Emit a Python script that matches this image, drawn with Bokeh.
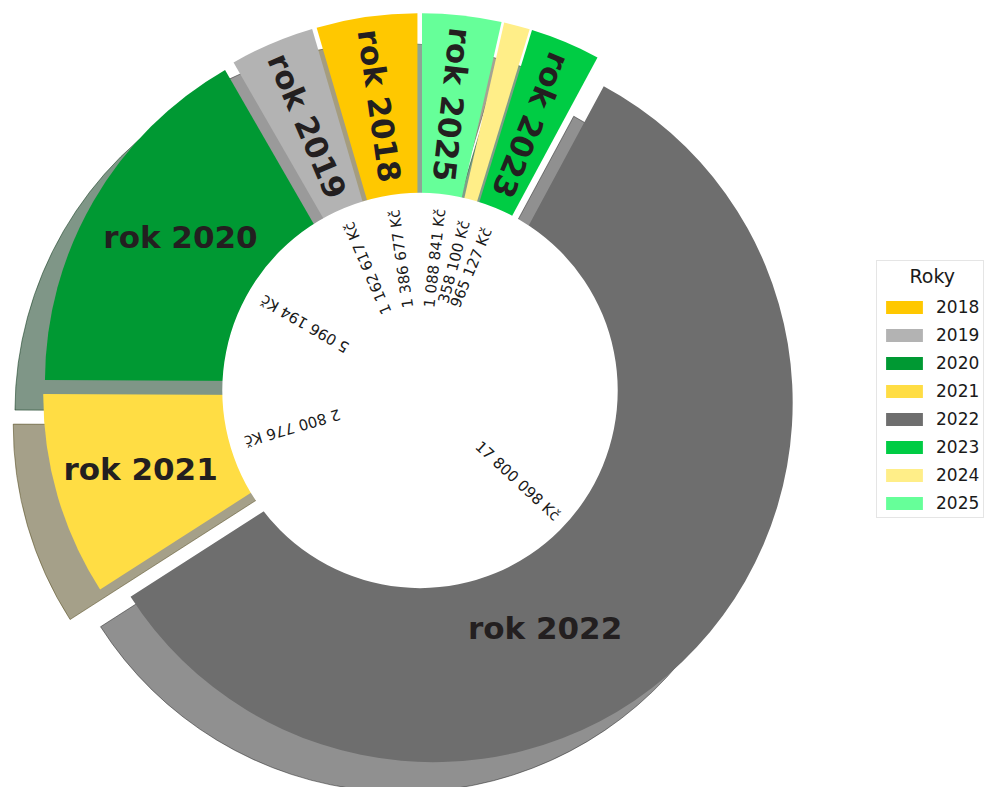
import numpy as np
from bokeh.plotting import figure
from bokeh.models import Range1d, Legend, LegendItem, ColumnDataSource
from bokeh.core.properties import value
from bokeh.embed import file_html
from bokeh.resources import INLINE

# ---- data ----
years = ["2018", "2019", "2020", "2021", "2022", "2023", "2024", "2025"]
amounts = [1386677, 1162617, 5096194, 2800776, 17800098, 965127, 358100, 1088841]
colors = ["#ffc800", "#b3b3b3", "#009933", "#ffdd44", "#6e6e6e", "#00cc44", "#ffee88", "#66ff99"]
wedge_labels = ["rok 2018", "rok 2019", "rok 2020", "rok 2021", "rok 2022", "rok 2023", "", "rok 2025"]
rotate_label = [True, True, False, False, False, True, False, True]

# ---- style ----
R = 359.5            # outer radius (px)
EXPLODE = 0.05
HOLE = 0.55
PCT_DIST = 0.32
LABEL_DIST = 0.75
SHADOW_DX, SHADOW_DY = -30, -30
# (angle deg, distance) overrides for horizontal labels of large wedges
label_override = {2: (147.1, 0.742), 3: (195.6, 0.757), 4: (296.4, 0.70)}

total = float(sum(amounts))
fracs = np.array(amounts) / total
theta1 = 90 + 360 * np.concatenate([[0.0], np.cumsum(fracs)[:-1]])
theta2 = theta1 + 360 * fracs
mid = (theta1 + theta2) / 2
ex = EXPLODE * R * np.cos(np.radians(mid))
ey = EXPLODE * R * np.sin(np.radians(mid))


def darker(hexc):
    h = hexc.lstrip("#")
    r, g, b = (int(h[i:i + 2], 16) for i in (0, 2, 4))
    return "#%02x%02x%02x" % (int(r * 0.3), int(g * 0.3), int(b * 0.3))


W, H = 990, 787
CX, CY = 419.5, 390   # pie centre inside the canvas (px)
p = figure(width=W, height=H,
           x_range=Range1d(-CX, W - CX), y_range=Range1d(CY - H, CY),
           output_backend="svg", toolbar_location=None,
           x_axis_location=None, y_axis_location=None,
           min_border=0, outline_line_color=None,
           background_fill_color="white", border_fill_color="white")
p.grid.visible = False

src = ColumnDataSource(dict(
    x=ex, y=ey, sx=ex + SHADOW_DX, sy=ey + SHADOW_DY,
    start=np.radians(theta1), end=np.radians(theta2),
    color=colors, shadow=[darker(c) for c in colors],
))

# shadows
p.wedge(x="sx", y="sy", radius=R, start_angle="start", end_angle="end",
        fill_color="shadow", fill_alpha=0.5, line_color="shadow", line_alpha=0.5,
        line_width=1, source=src)
# wedges
p.wedge(x="x", y="y", radius=R, start_angle="start", end_angle="end",
        fill_color="color", line_color=None, source=src)
# hole
p.circle(x=[0], y=[0], radius=HOLE * R, fill_color="white", line_color=None)

# value labels
vtext = [f"{a:,}".replace(",", " ") + " Kč" for a in amounts]
p.text(x=ex + PCT_DIST * R * np.cos(np.radians(mid)),
       y=ey + PCT_DIST * R * np.sin(np.radians(mid)),
       text=vtext, angle=np.radians(mid),
       text_align="center", text_baseline="middle",
       text_font=value("DejaVu Sans"), text_font_size="15px", text_color="#1a1a1a")

# wedge labels
lx, ly, la = [], [], []
for i in range(len(years)):
    ang, dist = label_override.get(i, (mid[i], LABEL_DIST))
    lx.append(ex[i] + dist * R * np.cos(np.radians(ang)))
    ly.append(ey[i] + dist * R * np.sin(np.radians(ang)))
    la.append(np.radians(mid[i] - 180) if rotate_label[i] else 0.0)
p.text(x=lx, y=ly, text=wedge_labels, angle=la,
       text_align="center", text_baseline="middle",
       text_font=value("DejaVu Sans"), text_font_style="bold",
       text_font_size="31px", text_color="#231f20")

# legend
items = []
for yr, c in zip(years, colors):
    r = p.quad(left=[np.nan], right=[np.nan], top=[np.nan], bottom=[np.nan],
               fill_color=c, line_color=None)
    items.append(LegendItem(label=yr, renderers=[r]))
legend = Legend(items=items, location=(876, H - 518), title="\u2002\u2002\u2002Roky",
                title_text_font="DejaVu Sans", title_text_font_size="19px",
                title_text_font_style="normal", title_text_color="#1a1a1a",
                title_standoff=10,
                label_text_font="DejaVu Sans", label_text_font_size="17px",
                label_text_color="#1a1a1a",
                glyph_width=46, glyph_height=16, label_height=20, spacing=8,
                label_standoff=9, padding=4, margin=0,
                border_line_color="#cccccc", border_line_width=1,
                background_fill_color="white", background_fill_alpha=0.8)
p.add_layout(legend)

open("out.html", "w").write(file_html(p, INLINE))
